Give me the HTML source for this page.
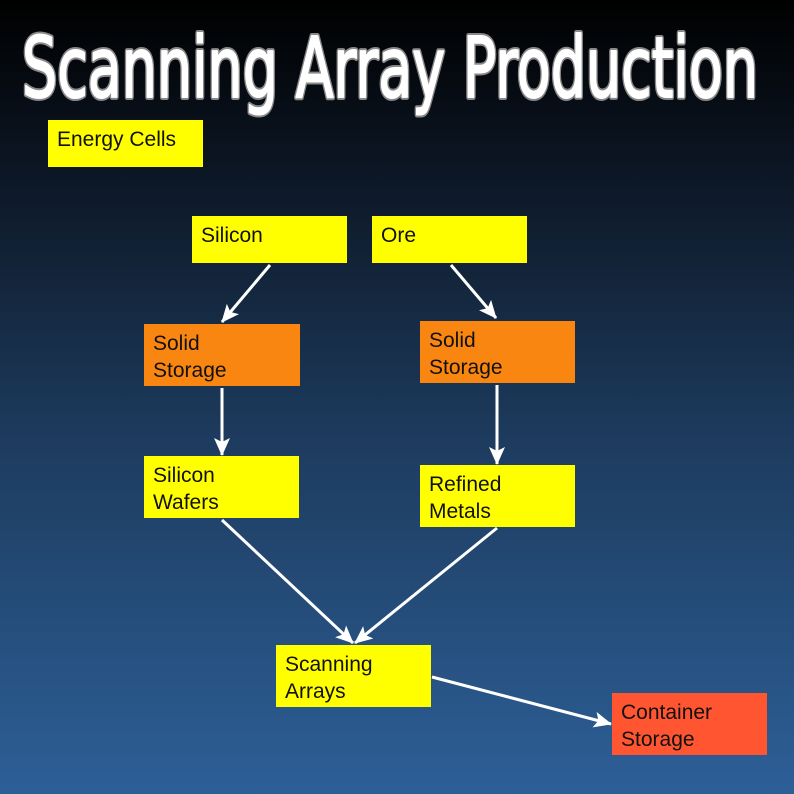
<!DOCTYPE html>
<html><head><style>
html,body{margin:0;padding:0}
body{width:794px;height:794px;overflow:hidden;background:linear-gradient(#000 0%,#0e1a2a 25%,#1d3b5e 55%,#2d5f97 100%);position:relative;font-family:"Liberation Sans",sans-serif}
.b{position:absolute;box-sizing:border-box;padding:6px 0 0 9px;font-size:21px;line-height:27px;color:#111;background:#ffff00}
.o{background:#fa8612}
.r{background:#ff5631}
svg{position:absolute;left:0;top:0}
</style></head><body>
<svg width="794" height="794">
<defs>
<marker id="m" markerWidth="18" markerHeight="16" refX="17" refY="8" orient="auto" markerUnits="userSpaceOnUse"><path d="M0,0 L18,8 L0,16 L4,8 z" fill="#fff"/></marker></defs>
<text x="22" y="97" font-family="DejaVu Sans" font-size="84" textLength="736" lengthAdjust="spacingAndGlyphs" fill="none" stroke="#888" stroke-width="6" stroke-linejoin="round">Scanning Array Production</text>
<text x="22" y="97" font-family="DejaVu Sans" font-size="84" textLength="736" lengthAdjust="spacingAndGlyphs" fill="#fff" stroke="#fff" stroke-width="2" stroke-linejoin="round">Scanning Array Production</text>
<g stroke="#fff" stroke-width="3" fill="none">
<line x1="270" y1="265" x2="222" y2="322" marker-end="url(#m)"/>
<line x1="451" y1="265" x2="496" y2="318" marker-end="url(#m)"/>
<line x1="222" y1="388" x2="222" y2="455" marker-end="url(#m)"/>
<line x1="497" y1="385" x2="497" y2="464" marker-end="url(#m)"/>
<line x1="222" y1="520" x2="353" y2="643" marker-end="url(#m)"/>
<line x1="497" y1="528" x2="355" y2="643" marker-end="url(#m)"/>
<line x1="432" y1="677" x2="611" y2="724" marker-end="url(#m)"/>
</g>
</svg>
<div class="b" style="left:48px;top:120px;width:155px;height:47px">Energy Cells</div>
<div class="b" style="left:192px;top:216px;width:155px;height:47px">Silicon</div>
<div class="b" style="left:372px;top:216px;width:155px;height:47px">Ore</div>
<div class="b o" style="left:144px;top:324px;width:156px;height:62px">Solid<br>Storage</div>
<div class="b o" style="left:420px;top:321px;width:155px;height:62px">Solid<br>Storage</div>
<div class="b" style="left:144px;top:456px;width:155px;height:62px">Silicon<br>Wafers</div>
<div class="b" style="left:420px;top:465px;width:155px;height:62px">Refined<br>Metals</div>
<div class="b" style="left:276px;top:645px;width:155px;height:62px">Scanning<br>Arrays</div>
<div class="b r" style="left:612px;top:693px;width:155px;height:62px">Container<br>Storage</div>
</body></html>
